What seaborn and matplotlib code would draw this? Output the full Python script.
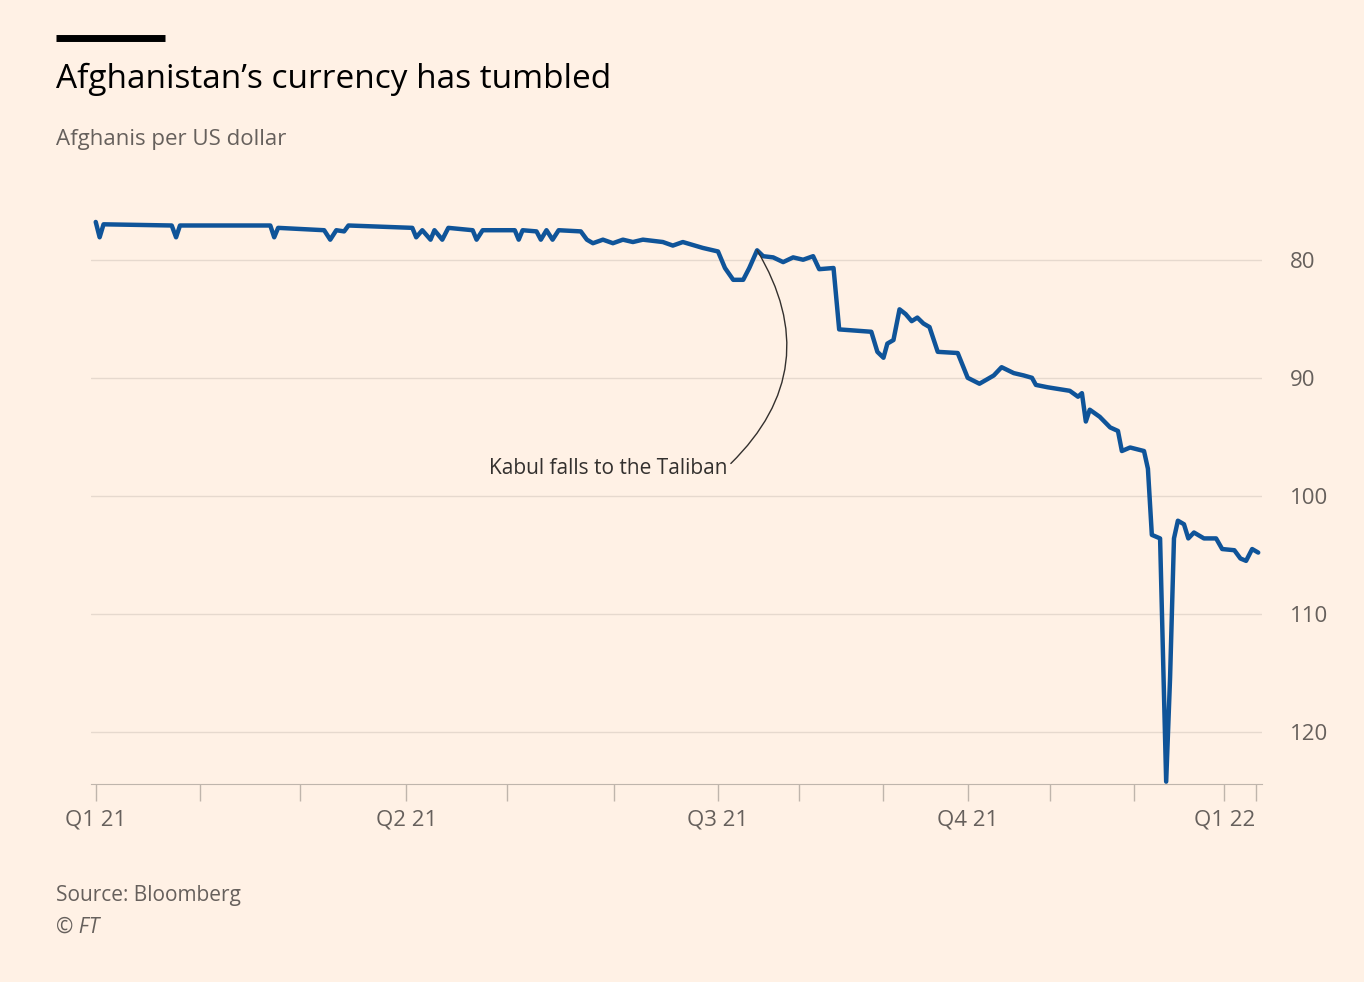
import seaborn as sns
import matplotlib.pyplot as plt
import pandas as pd
from matplotlib.lines import Line2D

# x = trading-day index from 1 Jan 2021, y = afghanis per US dollar
day = [0, 0.9, 1.8, 17.5, 18.5, 19.4, 40.2, 41.1, 42, 52.6, 54, 55.4, 57.2, 58.2,
       72.9, 73.8, 75.2, 77.1, 78, 79.8, 81.2, 86.8, 87.7, 89.1, 96.5, 97.4, 98.3,
       101.5, 102.5, 103.8, 105.2, 106.6, 111.7, 113.1, 114.5, 116.8, 119.1, 121.4,
       123.7, 126, 130.6, 132.9, 135.2, 139.8, 143.3, 144.9, 146.8, 149.1, 150.5,
       152.3, 153.7, 156, 158.3, 160.6, 162.9, 165.2, 166.6, 169.9, 171.2, 178.6,
       180, 181.4, 182.3, 183.7, 185.1, 186.5, 187.9, 189.2, 190.6, 192, 193.9,
       198.5, 200.8, 203.5, 205.4, 206.8, 208.6, 211.4, 213.7, 215.6, 216.5, 219.2,
       224.3, 226.2, 227.1, 228, 228.9, 231.2, 233.6, 235.4, 236.3, 238.2, 241.4,
       242.3, 243.2, 245.1, 246.5, 247.4, 248.3, 249.2, 250.6, 251.6, 252.9, 255.2,
       258, 259.4, 262.2, 263.6, 264.9, 266.3, 267.7]
rate = [76.8, 78.1, 77.0, 77.1, 78.1, 77.1, 77.1, 78.1, 77.3, 77.5, 78.3, 77.5, 77.6, 77.1,
        77.3, 78.1, 77.5, 78.3, 77.5, 78.3, 77.3, 77.5, 78.3, 77.5, 77.5, 78.3, 77.5,
        77.6, 78.3, 77.5, 78.3, 77.5, 77.6, 78.3, 78.6, 78.3, 78.6, 78.3,
        78.5, 78.3, 78.5, 78.8, 78.5, 79.0, 79.3, 80.7, 81.7, 81.7, 80.7,
        79.2, 79.7, 79.8, 80.2, 79.8, 80.0, 79.7, 80.8, 80.7, 85.9, 86.1,
        87.8, 88.3, 87.1, 86.8, 84.2, 84.6, 85.2, 84.9, 85.4, 85.7, 87.8,
        87.9, 90.0, 90.5, 90.1, 89.8, 89.1, 89.6, 89.8, 90.0, 90.6, 90.8,
        91.1, 91.6, 91.3, 93.7, 92.7, 93.3, 94.2, 94.5, 96.2, 95.9, 96.2,
        97.7, 103.3, 103.6, 124.2, 115.4, 103.6, 102.1, 102.4, 103.6, 103.1, 103.6,
        103.6, 104.5, 104.6, 105.3, 105.5, 104.5, 104.8]

month_start = [0, 24, 47.1, 71.5, 94.6, 119.3, 143.3, 162, 181.4, 200.8, 219.7, 239.1, 259.9, 267.2]
quarter_ticks = [0, 71.5, 143.3, 200.8, 259.9]
quarter_labels = ["Q1 21", "Q2 21", "Q3 21", "Q4 21", "Q1 22"]
y_ticks = [80, 90, 100, 110, 120]

bg = "#FFF1E5"
grey = "#66605C"
df = pd.DataFrame({"day": day, "rate": rate})

sns.set_style("white")
plt.rcParams["font.family"] = ["Open Sans", "DejaVu Sans"]

fig = plt.figure(figsize=(13.64, 9.82), dpi=100, facecolor=bg)
ax = fig.add_axes([0.067, 0.2016, 0.858, 0.582], facecolor=bg)
sns.lineplot(data=df, x="day", y="rate", color="#0F5499", lw=3.2, ax=ax)

ax.set_ylim(124.4, 76)
ax.set_xlim(-1, 268.5)
ax.set_yticks(y_ticks)
ax.yaxis.tick_right()
ax.tick_params(axis="y", length=0, labelsize=16, labelcolor=grey, pad=20)
ax.grid(axis="y", color="#E6D9CE", lw=1)
ax.set_xticks(month_start, minor=True)
ax.set_xticks(quarter_ticks)
ax.set_xticklabels(quarter_labels)
ax.tick_params(axis="x", which="both", bottom=True, direction="out", length=12,
               width=1, color="#BFB5AC", labelsize=16, labelcolor=grey, pad=6)
ax.set_xlabel("")
ax.set_ylabel("")
for s in ["top", "left", "right"]:
    ax.spines[s].set_visible(False)
ax.spines["bottom"].set_color("#BFB5AC")

ax.annotate("Kabul falls to the Taliban", xy=(152.3, 79.2), xytext=(145.5, 97.7),
            ha="right", va="center", fontsize=15, color="#33302E",
            arrowprops=dict(arrowstyle="-", color="#33302E", lw=1,
                            connectionstyle="arc3,rad=0.4", shrinkA=0, shrinkB=0,
                            relpos=(1, 0.6)))

fig.add_artist(Line2D([56 / 1364, 165 / 1364], [1 - 38 / 982] * 2, color="black",
                      lw=5, solid_capstyle="butt"))
fig.text(56 / 1364, 1 - 79 / 982, "Afghanistan\u2019s currency has tumbled",
         fontsize=24, color="#000000", va="center")
fig.text(56 / 1364, 1 - 139 / 982, "Afghanis per US dollar", fontsize=16,
         color=grey, va="center")
fig.text(56 / 1364, 1 - 895 / 982, "Source: Bloomberg", fontsize=15, color=grey, va="center")
fig.text(56 / 1364, 1 - 927 / 982, "\u00a9 FT", fontsize=15, color=grey, va="center",
         style="italic")

fig.savefig("out.png", dpi=100, facecolor=bg)
